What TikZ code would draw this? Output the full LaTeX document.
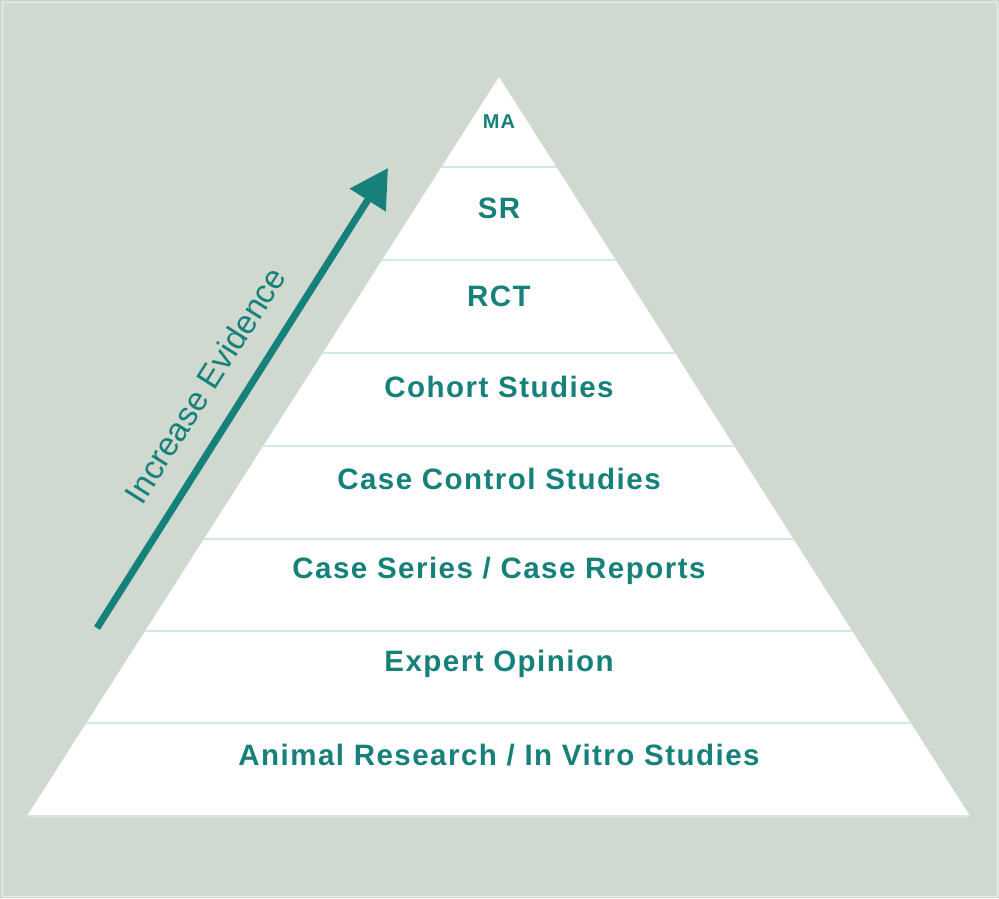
\documentclass[tikz,border=0pt]{standalone}
\usepackage{fontspec}
\setmainfont{Liberation Sans}
\newfontfamily\layerfont[LetterSpace=5]{Liberation Sans}
\usetikzlibrary{arrows.meta}
\definecolor{bgsage}{HTML}{CFD9CF}
\definecolor{evteal}{HTML}{16807A}
\definecolor{linecyan}{HTML}{D3E7E8}
\begin{document}
\begin{tikzpicture}[
    x=1pt,y=-1pt,
    sepline/.style={linecyan,line width=2pt},
    layer/.style={text=evteal,inner sep=0pt,font=\layerfont\bfseries\fontsize{29.5}{33}\selectfont},
    toplayer/.style={layer,font=\layerfont\bfseries\fontsize{20}{24}\selectfont},
    evarrow/.style={evteal,line width=7pt,-{Triangle[length=38pt,width=41pt]}}
]
    %Background
    \fill[bgsage] (0,0) rectangle (999,898);
    \draw[white!55!bgsage,line width=1pt] (2,2) rectangle (997,896);
    %Pyramid
    \coordinate (apex) at (499,77);
    \coordinate (baseL) at (27,816);
    \coordinate (baseR) at (970,816);
    \fill[white] (apex) -- (baseL) -- (baseR) -- cycle;
    \begin{scope}
        \clip (apex) -- (baseL) -- (baseR) -- cycle;
        \draw[sepline] (0,167) -- (999,167);
        \draw[sepline] (0,260) -- (999,260);
        \draw[sepline] (0,353) -- (999,353);
        \draw[sepline] (0,446) -- (999,446);
        \draw[sepline] (0,539) -- (999,539);
        \draw[sepline] (0,631) -- (999,631);
        \draw[sepline] (0,723) -- (999,723);
    \end{scope}
    \draw[sepline] (baseL) -- (baseR);
    %Layers
    \node[toplayer] (ma) at (499,122) {MA};
    \node[layer] (sr) at (499,208) {SR};
    \node[layer] (rct) at (499,296) {RCT};
    \node[layer] (cohort) at (499,387) {Cohort Studies};
    \node[layer] (casectl) at (499,479) {Case Control Studies};
    \node[layer] (caseser) at (499,571) {Case Series / Case Reports};
    \node[layer] (expert) at (499,664) {Expert Opinion};
    \node[layer] (animal) at (499,755) {Animal Research / In Vitro Studies};
    %Arrow
    \coordinate (evtail) at (97,628);
    \coordinate (evtip) at (388,168);
    \draw[evarrow] (evtail) -- (evtip);
    \node[rotate=57.7,text=evteal,inner sep=0pt,font=\fontsize{33}{37}\selectfont] (evlabel) at (205,385) {Increase Evidence};
\end{tikzpicture}
\end{document}
